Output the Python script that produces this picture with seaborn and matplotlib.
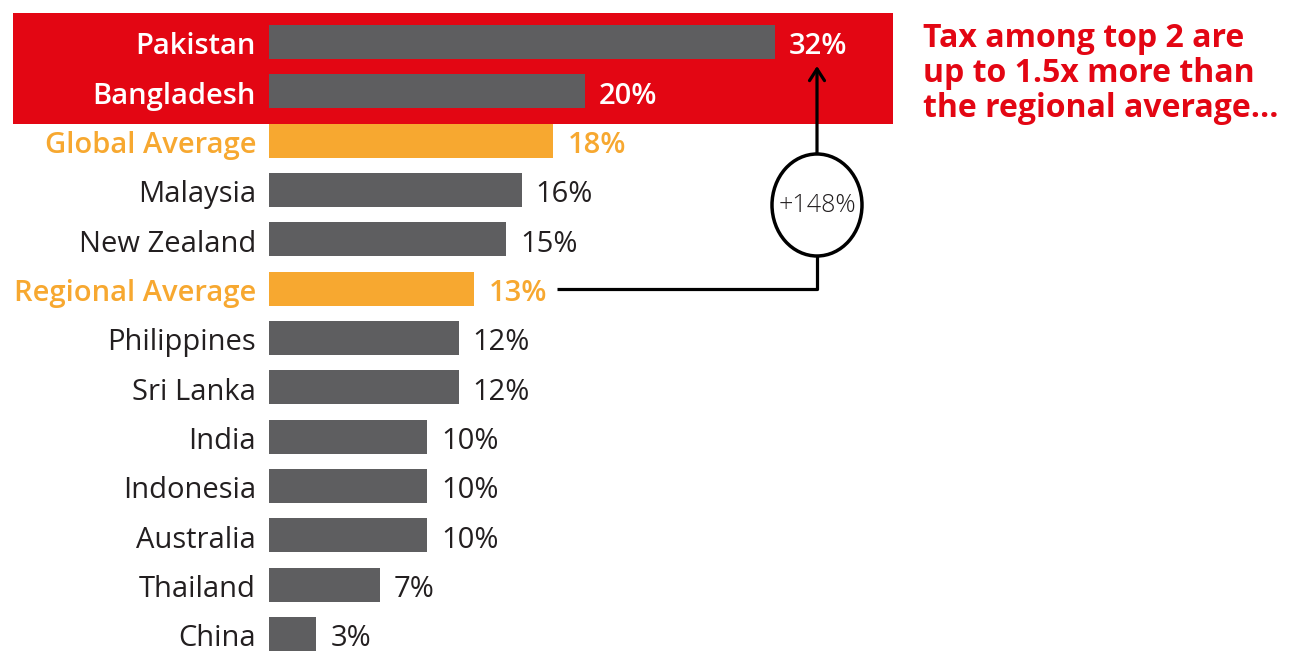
import matplotlib
matplotlib.use("Agg")
import matplotlib.pyplot as plt
from matplotlib.patches import Rectangle, Ellipse
import seaborn as sns

countries = ["Pakistan", "Bangladesh", "Global Average", "Malaysia", "New Zealand",
             "Regional Average", "Philippines", "Sri Lanka", "India", "Indonesia",
             "Australia", "Thailand", "China"]
tax_rate = [32, 20, 18, 16, 15, 13, 12, 12, 10, 10, 10, 7, 3]
value_labels = ["32%", "20%", "18%", "16%", "15%", "13%", "12%", "12%",
                "10%", "10%", "10%", "7%", "3%"]
uplift_label = "+148%"
headline = ["Tax among top 2 are", "up to 1.5x more than", "the regional average..."]

RED = "#E30613"
GREY = "#5E5E60"
ORANGE = "#F7A830"
INK = "#231F20"

sns.set_theme(style="white")
plt.rcParams["font.family"] = ["Open Sans", "DejaVu Sans"]

fig = plt.figure(figsize=(12.91, 6.51), dpi=100)
ax = fig.add_axes([0, 0, 1, 1])

highlight = {"Pakistan", "Bangladesh"}
averages = {"Global Average", "Regional Average"}
palette = {c: (ORANGE if c in averages else GREY) for c in countries}

sns.barplot(x=tax_rate, y=countries, hue=countries, palette=palette,
            legend=False, orient="h", width=0.69, saturation=1,
            linewidth=0, ax=ax, zorder=3)

# scale: 15.8 px per percentage point, rows 49.33 px apart
ppx = 15.8
row = 49.33
ax.set_xlim(-269 / ppx, (1291 - 269) / ppx)
ax.set_ylim((651 - 42) / row, -42 / row)
ax.axis("off")

# red highlight panel behind the top two rows
ax.add_patch(Rectangle((-256 / ppx, -29 / row), 880 / ppx, 111 / row,
                       facecolor=RED, edgecolor="none", zorder=1))

base = 12.5 / row  # text baseline sits a little below the bar centre
for i, (c, v, lab) in enumerate(zip(countries, tax_rate, value_labels)):
    if c in highlight:
        col, wt = "white", "semibold"
    elif c in averages:
        col, wt = ORANGE, "semibold"
    else:
        col, wt = INK, "normal"
    ax.text(-13 / ppx, i + base, c, ha="right", va="baseline", fontsize=21,
            color=col, fontweight=wt, zorder=4)
    ax.text(v + 14 / ppx, i + base, lab, ha="left", va="baseline", fontsize=21,
            color=col, fontweight=wt, zorder=4)

# connector from regional average up to Pakistan
xv = (817 - 269) / ppx
cy = (205 - 42) / row
ry = 51 / row
ax.plot([(557 - 269) / ppx, xv, xv], [5, 5, cy + ry], color="black",
        lw=2.3, solid_capstyle="butt", zorder=4)
ax.annotate("", xy=(xv, (66 - 42) / row), xytext=(xv, cy - ry),
            arrowprops=dict(arrowstyle="->,head_length=0.7,head_width=0.45",
                            color="black", lw=2.3, shrinkA=0, shrinkB=0),
            zorder=4)
ax.add_patch(Ellipse((xv, cy), 90 / ppx, 2 * ry, facecolor="white",
                     edgecolor="black", lw=2.5, zorder=5))
ax.text(xv, cy, uplift_label, ha="center", va="center", fontsize=18,
        color=INK, fontweight="light", zorder=6)

for k, line in enumerate(headline):
    fig.text(923 / 1291, 1 - (47 + 35 * k) / 651, line, ha="left", va="baseline",
             fontsize=23, color=RED, fontweight="bold")

fig.savefig("out.png", dpi=100, facecolor="white")
